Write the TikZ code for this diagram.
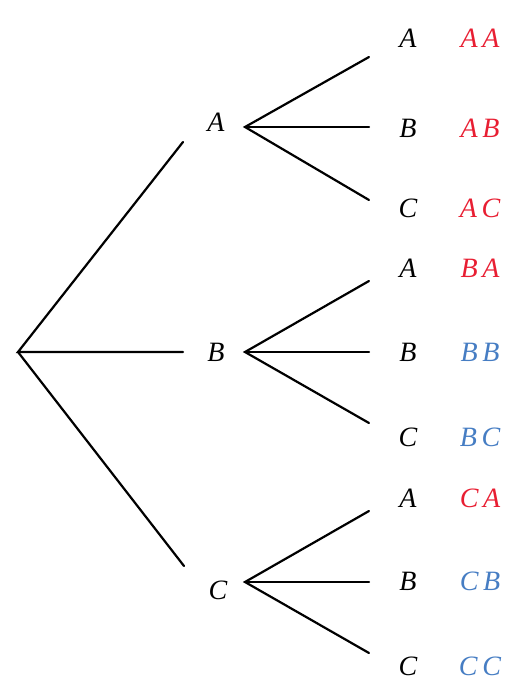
\documentclass[tikz,border=0pt]{standalone}
\usepackage{fontspec}
\setmainfont{Liberation Serif}
\definecolor{pred}{RGB}{232,30,50}
\definecolor{pblue}{RGB}{70,125,195}
\begin{document}
\begin{tikzpicture}[x=1pt,y=-1pt,
  lbl/.style={font=\fontsize{28}{28}\selectfont\itshape, inner sep=0pt, anchor=center},
  rl/.style={lbl, text=pred},
  bl/.style={lbl, text=pblue},
  br/.style={line width=2.2pt, line cap=round}]
\useasboundingbox (0,0) rectangle (516,692);
% root
\coordinate (r) at (18,352);
\coordinate (eA) at (183,142);
\coordinate (eB) at (183,352);
\coordinate (eC) at (184,566);
\node[lbl] (A) at (216,122) {A};
\node[lbl] (B) at (216,352) {B};
\node[lbl] (C) at (218,590) {C};
\draw[br] (eA) -- (r) -- (eB);
\draw[br] (r) -- (eC);
% vertices
\coordinate (vA) at (245,127);
\coordinate (vB) at (245,352);
\coordinate (vC) at (245,582);
% A group
\coordinate (a1) at (369,57);
\coordinate (a2) at (369,127);
\coordinate (a3) at (369,200);
\draw[br] (a1) -- (vA) -- (a3);
\draw[br] (vA) -- (a2);
\node[lbl] (AA1) at (408,38) {A};
\node[lbl] (AB1) at (408,128) {B};
\node[lbl] (AC1) at (408,208) {C};
\node[rl] (AA) at (480,38) {A\,A};
\node[rl] (AB) at (480,128) {A\,B};
\node[rl] (AC) at (480,208) {A\,C};
% B group
\coordinate (b1) at (369,281);
\coordinate (b2) at (369,352);
\coordinate (b3) at (369,423);
\draw[br] (b1) -- (vB) -- (b3);
\draw[br] (vB) -- (b2);
\node[lbl] (BA1) at (408,268) {A};
\node[lbl] (BB1) at (408,352) {B};
\node[lbl] (BC1) at (408,437) {C};
\node[rl] (BA) at (480,268) {B\,A};
\node[bl] (BB) at (480,352) {B\,B};
\node[bl] (BC) at (480,437) {B\,C};
% C group
\coordinate (c1) at (369,511);
\coordinate (c2) at (369,582);
\coordinate (c3) at (369,653);
\draw[br] (c1) -- (vC) -- (c3);
\draw[br] (vC) -- (c2);
\node[lbl] (CA1) at (408,498) {A};
\node[lbl] (CB1) at (408,581) {B};
\node[lbl] (CC1) at (408,666) {C};
\node[rl] (CA) at (480,498) {C\,A};
\node[bl] (CB) at (480,581) {C\,B};
\node[bl] (CC) at (480,666) {C\,C};
\end{tikzpicture}
\end{document}
